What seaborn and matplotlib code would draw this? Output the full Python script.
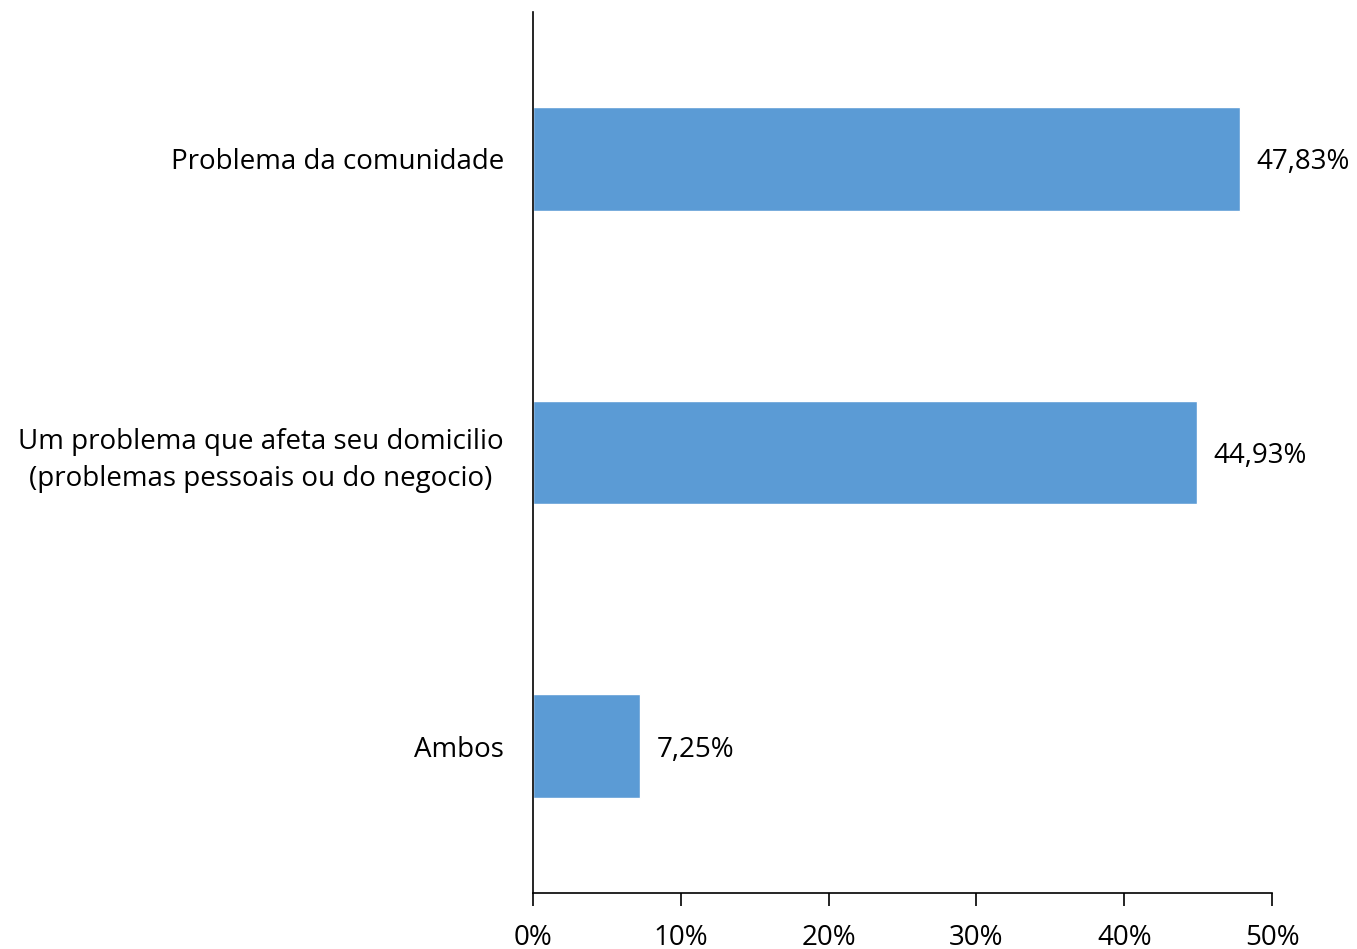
import seaborn as sns
import matplotlib.pyplot as plt
import pandas as pd

categorias = ["Problema da comunidade",
              "Um problema que afeta seu domicilio\n(problemas pessoais ou do negocio)",
              "Ambos"]
valores = [47.83, 44.93, 7.25]
rotulos = ["47,83%", "44,93%", "7,25%"]

df = pd.DataFrame({"categoria": categorias, "valor": valores})

sns.set_style("white")
plt.rcParams["font.family"] = ["Open Sans", "DejaVu Sans"]
plt.rcParams["text.color"] = "black"
plt.rcParams["xtick.color"] = "black"
plt.rcParams["ytick.color"] = "black"
plt.rcParams["xtick.labelcolor"] = "black"
plt.rcParams["ytick.labelcolor"] = "black"

fig = plt.figure(figsize=(13.57, 9.49), dpi=100)
ax = fig.add_axes([533 / 1357, 1 - 893 / 949, (1272 - 533) / 1357, (893 - 12) / 949])

sns.barplot(data=df, x="valor", y="categoria", color="#5B9BD5", width=0.354,
            saturation=1, ax=ax)

for i, r in enumerate(rotulos):
    ax.text(valores[i] + 1.1, i, r, va="center_baseline", ha="left", fontsize=20,
            color="black")

ax.set_xlim(0, 50)
ax.set_ylim(2.5, -0.5)
ax.set_xticks([0, 10, 20, 30, 40, 50])
ax.set_xticklabels(["0%", "10%", "20%", "30%", "40%", "50%"], fontsize=20)
ax.set_xlabel("")
ax.set_ylabel("")
ax.tick_params(axis="x", bottom=True, direction="out", length=9, width=1.2,
               color="black", pad=13)
ax.tick_params(axis="y", left=False, length=0, pad=21, labelsize=20)
for lbl in ax.get_yticklabels():
    lbl.set_multialignment("center")
    lbl.set_linespacing(1.45)

sns.despine(ax=ax, top=True, right=True)
for s in ["left", "bottom"]:
    ax.spines[s].set_color("black")
    ax.spines[s].set_linewidth(1.2)

fig.savefig("out.png", dpi=100)
